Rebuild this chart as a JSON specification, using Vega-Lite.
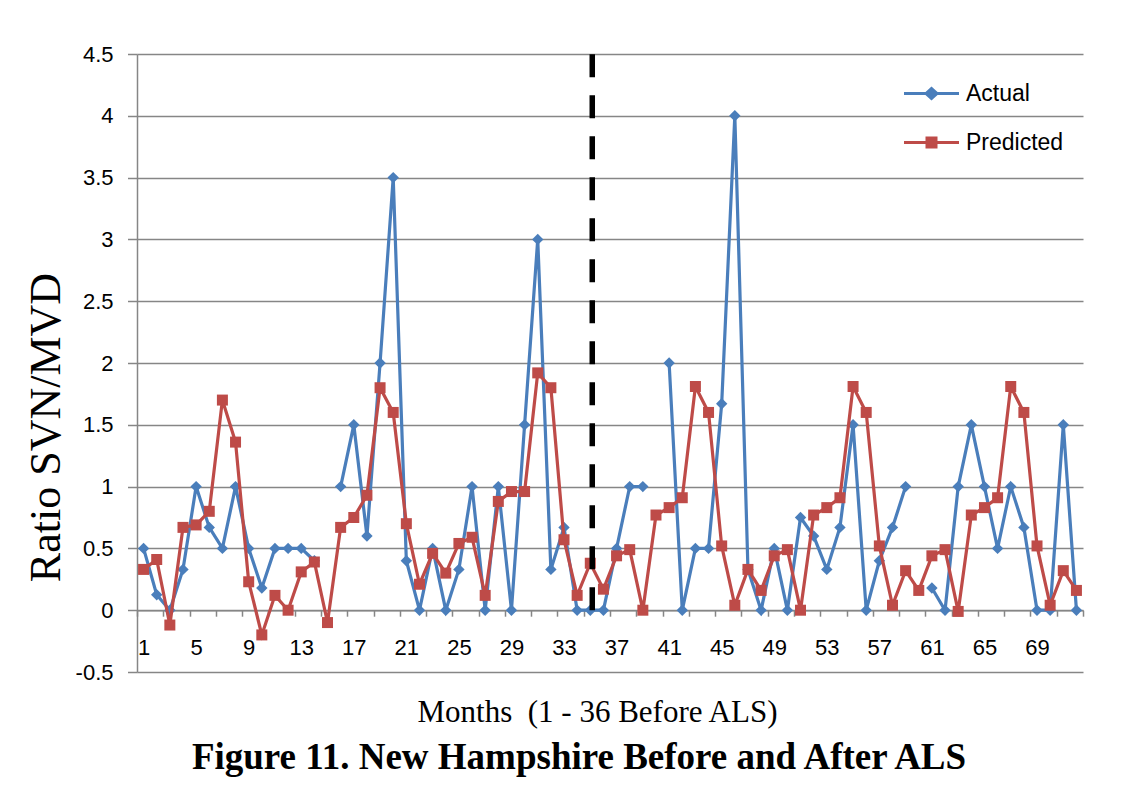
{
  "$schema": "https://vega.github.io/schema/vega-lite/v6.json",
  "width": 946,
  "height": 618,
  "autosize": "none",
  "padding": {"left": 137, "top": 54, "right": 56, "bottom": 137},
  "background": "white",
  "config": {
    "view": {"stroke": null},
    "mark": {"invalid": "break-paths-filter-domains"}
  },
  "title": {
    "text": "Figure 11. New Hampshire Before and After ALS",
    "orient": "bottom",
    "anchor": "middle",
    "frame": "group",
    "font": "Liberation Serif",
    "fontSize": 37,
    "fontWeight": "bold",
    "color": "black",
    "offset": 13,
    "dx": -31
  },
  "datasets": {
    "series": [
      {"month": 1, "series": "Actual", "value": 0.5},
      {"month": 2, "series": "Actual", "value": 0.125},
      {"month": 3, "series": "Actual", "value": 0},
      {"month": 4, "series": "Actual", "value": 0.33},
      {"month": 5, "series": "Actual", "value": 1},
      {"month": 6, "series": "Actual", "value": 0.67},
      {"month": 7, "series": "Actual", "value": 0.5},
      {"month": 8, "series": "Actual", "value": 1},
      {"month": 9, "series": "Actual", "value": 0.5},
      {"month": 10, "series": "Actual", "value": 0.18},
      {"month": 11, "series": "Actual", "value": 0.5},
      {"month": 12, "series": "Actual", "value": 0.5},
      {"month": 13, "series": "Actual", "value": 0.5},
      {"month": 14, "series": "Actual", "value": 0.4},
      {"month": 15, "series": "Actual", "value": null},
      {"month": 16, "series": "Actual", "value": 1},
      {"month": 17, "series": "Actual", "value": 1.5},
      {"month": 18, "series": "Actual", "value": 0.6},
      {"month": 19, "series": "Actual", "value": 2},
      {"month": 20, "series": "Actual", "value": 3.5},
      {"month": 21, "series": "Actual", "value": 0.4},
      {"month": 22, "series": "Actual", "value": 0},
      {"month": 23, "series": "Actual", "value": 0.5},
      {"month": 24, "series": "Actual", "value": 0},
      {"month": 25, "series": "Actual", "value": 0.33},
      {"month": 26, "series": "Actual", "value": 1},
      {"month": 27, "series": "Actual", "value": 0},
      {"month": 28, "series": "Actual", "value": 1},
      {"month": 29, "series": "Actual", "value": 0},
      {"month": 30, "series": "Actual", "value": 1.5},
      {"month": 31, "series": "Actual", "value": 3},
      {"month": 32, "series": "Actual", "value": 0.33},
      {"month": 33, "series": "Actual", "value": 0.67},
      {"month": 34, "series": "Actual", "value": 0},
      {"month": 35, "series": "Actual", "value": 0},
      {"month": 36, "series": "Actual", "value": 0},
      {"month": 37, "series": "Actual", "value": 0.5},
      {"month": 38, "series": "Actual", "value": 1},
      {"month": 39, "series": "Actual", "value": 1},
      {"month": 40, "series": "Actual", "value": null},
      {"month": 41, "series": "Actual", "value": 2},
      {"month": 42, "series": "Actual", "value": 0},
      {"month": 43, "series": "Actual", "value": 0.5},
      {"month": 44, "series": "Actual", "value": 0.5},
      {"month": 45, "series": "Actual", "value": 1.67},
      {"month": 46, "series": "Actual", "value": 4},
      {"month": 47, "series": "Actual", "value": 0.33},
      {"month": 48, "series": "Actual", "value": 0},
      {"month": 49, "series": "Actual", "value": 0.5},
      {"month": 50, "series": "Actual", "value": 0},
      {"month": 51, "series": "Actual", "value": 0.75},
      {"month": 52, "series": "Actual", "value": 0.6},
      {"month": 53, "series": "Actual", "value": 0.33},
      {"month": 54, "series": "Actual", "value": 0.67},
      {"month": 55, "series": "Actual", "value": 1.5},
      {"month": 56, "series": "Actual", "value": 0},
      {"month": 57, "series": "Actual", "value": 0.4},
      {"month": 58, "series": "Actual", "value": 0.67},
      {"month": 59, "series": "Actual", "value": 1},
      {"month": 60, "series": "Actual", "value": null},
      {"month": 61, "series": "Actual", "value": 0.18},
      {"month": 62, "series": "Actual", "value": 0},
      {"month": 63, "series": "Actual", "value": 1},
      {"month": 64, "series": "Actual", "value": 1.5},
      {"month": 65, "series": "Actual", "value": 1},
      {"month": 66, "series": "Actual", "value": 0.5},
      {"month": 67, "series": "Actual", "value": 1},
      {"month": 68, "series": "Actual", "value": 0.67},
      {"month": 69, "series": "Actual", "value": 0},
      {"month": 70, "series": "Actual", "value": 0},
      {"month": 71, "series": "Actual", "value": 1.5},
      {"month": 72, "series": "Actual", "value": 0},
      {"month": 1, "series": "Predicted", "value": 0.33},
      {"month": 2, "series": "Predicted", "value": 0.41},
      {"month": 3, "series": "Predicted", "value": -0.12},
      {"month": 4, "series": "Predicted", "value": 0.67},
      {"month": 5, "series": "Predicted", "value": 0.69},
      {"month": 6, "series": "Predicted", "value": 0.8},
      {"month": 7, "series": "Predicted", "value": 1.7},
      {"month": 8, "series": "Predicted", "value": 1.36},
      {"month": 9, "series": "Predicted", "value": 0.23},
      {"month": 10, "series": "Predicted", "value": -0.2},
      {"month": 11, "series": "Predicted", "value": 0.12},
      {"month": 12, "series": "Predicted", "value": 0},
      {"month": 13, "series": "Predicted", "value": 0.31},
      {"month": 14, "series": "Predicted", "value": 0.39},
      {"month": 15, "series": "Predicted", "value": -0.1},
      {"month": 16, "series": "Predicted", "value": 0.67},
      {"month": 17, "series": "Predicted", "value": 0.75},
      {"month": 18, "series": "Predicted", "value": 0.93},
      {"month": 19, "series": "Predicted", "value": 1.8},
      {"month": 20, "series": "Predicted", "value": 1.6},
      {"month": 21, "series": "Predicted", "value": 0.7},
      {"month": 22, "series": "Predicted", "value": 0.21},
      {"month": 23, "series": "Predicted", "value": 0.46},
      {"month": 24, "series": "Predicted", "value": 0.3},
      {"month": 25, "series": "Predicted", "value": 0.54},
      {"month": 26, "series": "Predicted", "value": 0.59},
      {"month": 27, "series": "Predicted", "value": 0.12},
      {"month": 28, "series": "Predicted", "value": 0.88},
      {"month": 29, "series": "Predicted", "value": 0.96},
      {"month": 30, "series": "Predicted", "value": 0.96},
      {"month": 31, "series": "Predicted", "value": 1.92},
      {"month": 32, "series": "Predicted", "value": 1.8},
      {"month": 33, "series": "Predicted", "value": 0.57},
      {"month": 34, "series": "Predicted", "value": 0.12},
      {"month": 35, "series": "Predicted", "value": 0.38},
      {"month": 36, "series": "Predicted", "value": 0.17},
      {"month": 37, "series": "Predicted", "value": 0.44},
      {"month": 38, "series": "Predicted", "value": 0.49},
      {"month": 39, "series": "Predicted", "value": 0},
      {"month": 40, "series": "Predicted", "value": 0.77},
      {"month": 41, "series": "Predicted", "value": 0.83},
      {"month": 42, "series": "Predicted", "value": 0.91},
      {"month": 43, "series": "Predicted", "value": 1.81},
      {"month": 44, "series": "Predicted", "value": 1.6},
      {"month": 45, "series": "Predicted", "value": 0.52},
      {"month": 46, "series": "Predicted", "value": 0.04},
      {"month": 47, "series": "Predicted", "value": 0.33},
      {"month": 48, "series": "Predicted", "value": 0.16},
      {"month": 49, "series": "Predicted", "value": 0.44},
      {"month": 50, "series": "Predicted", "value": 0.49},
      {"month": 51, "series": "Predicted", "value": 0},
      {"month": 52, "series": "Predicted", "value": 0.77},
      {"month": 53, "series": "Predicted", "value": 0.83},
      {"month": 54, "series": "Predicted", "value": 0.91},
      {"month": 55, "series": "Predicted", "value": 1.81},
      {"month": 56, "series": "Predicted", "value": 1.6},
      {"month": 57, "series": "Predicted", "value": 0.52},
      {"month": 58, "series": "Predicted", "value": 0.04},
      {"month": 59, "series": "Predicted", "value": 0.32},
      {"month": 60, "series": "Predicted", "value": 0.16},
      {"month": 61, "series": "Predicted", "value": 0.44},
      {"month": 62, "series": "Predicted", "value": 0.49},
      {"month": 63, "series": "Predicted", "value": -0.01},
      {"month": 64, "series": "Predicted", "value": 0.77},
      {"month": 65, "series": "Predicted", "value": 0.83},
      {"month": 66, "series": "Predicted", "value": 0.91},
      {"month": 67, "series": "Predicted", "value": 1.81},
      {"month": 68, "series": "Predicted", "value": 1.6},
      {"month": 69, "series": "Predicted", "value": 0.52},
      {"month": 70, "series": "Predicted", "value": 0.04},
      {"month": 71, "series": "Predicted", "value": 0.32},
      {"month": 72, "series": "Predicted", "value": 0.16}
    ],
    "marker": [{"month": 35.15, "lo": 0, "hi": 4.5}]
  },
  "encoding": {
    "x": {
      "field": "month",
      "type": "quantitative",
      "scale": {"domain": [0.5, 72.5], "nice": false, "zero": false},
      "axis": {
        "orient": "bottom",
        "offset": -61.8,
        "values": [0.5, 1, 2.5, 4.5, 5, 6.5, 8.5, 9, 10.5, 12.5, 13, 14.5, 16.5, 17, 18.5, 20.5, 21, 22.5, 24.5, 25, 26.5, 28.5, 29, 30.5, 32.5, 33, 34.5, 36.5, 37, 38.5, 40.5, 41, 42.5, 44.5, 45, 46.5, 48.5, 49, 50.5, 52.5, 53, 54.5, 56.5, 57, 58.5, 60.5, 61, 62.5, 64.5, 65, 66.5, 68.5, 69, 70.5, 72.5],
        "labelExpr": "datum.value % 1 === 0 ? toString(datum.value) : ''",
        "labelOverlap": false,
        "labelFlush": false,
        "labelFont": "Liberation Sans",
        "labelFontSize": 22,
        "labelColor": "black",
        "labelPadding": 21,
        "tickSize": 6,
        "tickWidth": 1.5,
        "tickColor": "#868686",
        "tickOpacity": {"condition": {"test": "datum.value % 1 !== 0", "value": 1}, "value": 0},
        "domainColor": "#868686",
        "domainWidth": 1.5,
        "grid": false,
        "title": "Months\u00a0 (1 - 36 Before ALS)",
        "titleFont": "Liberation Serif",
        "titleFontSize": 31,
        "titleFontWeight": "normal",
        "titleColor": "black",
        "titleX": 460,
        "titleY": 111,
        "titleAlign": "center",
        "titleBaseline": "alphabetic"
      }
    },
    "y": {
      "field": "value",
      "type": "quantitative",
      "scale": {"domain": [-0.5, 4.5], "nice": false, "zero": false},
      "axis": {
        "values": [-0.5, 0, 0.5, 1, 1.5, 2, 2.5, 3, 3.5, 4, 4.5],
        "labelExpr": "toString(datum.value)",
        "labelFont": "Liberation Sans",
        "labelFontSize": 22,
        "labelColor": "black",
        "labelPadding": 14.5,
        "tickSize": 9.5,
        "tickWidth": 1.5,
        "tickColor": "#868686",
        "domainColor": "#868686",
        "domainWidth": 1.5,
        "grid": true,
        "gridColor": "#868686",
        "gridWidth": 1.5,
        "title": "Ratio SVN/MVD",
        "titleFont": "Liberation Serif",
        "titleFontSize": 44,
        "titleFontWeight": "normal",
        "titleColor": "black",
        "titleX": -78,
        "titleY": 373,
        "titleAlign": "center",
        "titleBaseline": "alphabetic"
      }
    }
  },
  "layer": [
    {
      "data": {"name": "series"},
      "transform": [{"filter": "datum.series === 'Actual'"}],
      "mark": {"type": "line", "strokeWidth": 3.2},
      "encoding": {
        "color": {
          "field": "series",
          "type": "nominal",
          "scale": {"domain": ["Actual", "Predicted"], "range": ["#4A7EBB", "#BE4B48"]},
          "legend": {
            "title": null,
            "orient": "none",
            "legendX": 768,
            "legendY": 13,
            "symbolSize": 2500,
            "symbolStrokeWidth": 3,
            "labelFont": "Liberation Sans",
            "labelFontSize": 23,
            "labelColor": "black",
            "labelOffset": 8,
            "rowPadding": 10,
            "encode": {
              "symbols": {
                "update": {
                  "shape": {"signal": "datum.value === 'Actual' ? 'M-1.1,0L1.1,0M-0.22,0L0,-0.2L0.22,0L0,0.2Z' : 'M-1.1,0L1.1,0M-0.18,-0.18L0.18,-0.18L0.18,0.18L-0.18,0.18Z'"},
                  "fill": {"scale": "color", "field": "value"},
                  "stroke": {"scale": "color", "field": "value"},
                  "opacity": {"value": 1}
                }
              }
            }
          }
        }
      }
    },
    {
      "data": {"name": "series"},
      "transform": [{"filter": "datum.series === 'Actual'"}],
      "mark": {"type": "point", "shape": "diamond", "filled": true, "size": 130, "opacity": 1},
      "encoding": {
        "color": {"field": "series", "type": "nominal"}
      }
    },
    {
      "data": {"name": "series"},
      "transform": [{"filter": "datum.series === 'Predicted'"}],
      "mark": {"type": "line", "strokeWidth": 3.2},
      "encoding": {
        "color": {"field": "series", "type": "nominal"}
      }
    },
    {
      "data": {"name": "series"},
      "transform": [{"filter": "datum.series === 'Predicted'"}],
      "mark": {"type": "point", "shape": "square", "filled": true, "size": 121, "opacity": 1},
      "encoding": {
        "color": {"field": "series", "type": "nominal"}
      }
    },
    {
      "data": {"name": "marker"},
      "mark": {"type": "rule", "color": "black", "strokeWidth": 5.5, "strokeDash": [23, 18]},
      "encoding": {
        "y": {"field": "lo", "type": "quantitative"},
        "y2": {"field": "hi"}
      }
    }
  ]
}
